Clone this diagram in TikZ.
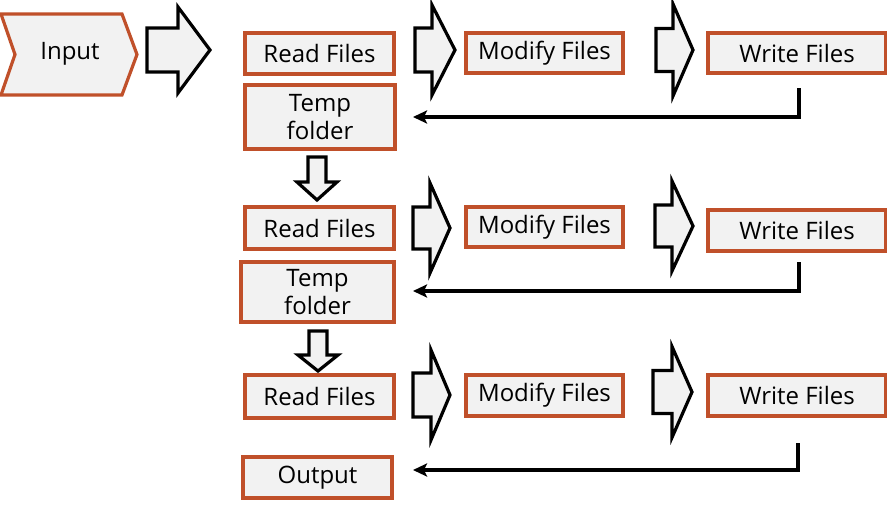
\documentclass[tikz,border=0pt]{standalone}
\usepackage{fontspec}
\setmainfont{Open Sans}
\usetikzlibrary{arrows.meta}
\definecolor{boxred}{RGB}{192,80,42}
\definecolor{boxfill}{RGB}{242,242,242}
\tikzset{
  box/.style={draw=boxred, line width=3.2pt, fill=boxfill, inner sep=0pt, align=center,
    font=\fontsize{24}{28}\selectfont, text=black},
  blk/.style={draw=black, line width=3.2pt, fill=boxfill, line join=miter},
  ret/.style={draw=black, line width=3.2pt, -{Stealth[length=14pt,width=13pt,inset=3pt]}},
}
\newcommand{\rarrow}[7]{% x0 xh xt yc shafthalf headhalf
  \path[blk] (#1,#4-#5) -- (#2,#4-#5) -- (#2,#4-#6) -- (#3,#4) -- (#2,#4+#6) -- (#2,#4+#5) -- (#1,#4+#5) -- cycle;}
\newcommand{\darrow}[6]{% cx ytop yhead ytip shafthalf headhalf
  \path[blk] (#1-#5,#2) -- (#1+#5,#2) -- (#1+#5,#3) -- (#1+#6,#3) -- (#1,#4) -- (#1-#6,#3) -- (#1-#5,#3) -- cycle;}
\begin{document}
\begin{tikzpicture}[x=1pt,y=-1pt]
\useasboundingbox (0,0) rectangle (887,506);
% input chevron
\path[draw=boxred, line width=3.2pt, fill=boxfill, line join=miter] (1,14) -- (122,14) -- (137,54.5) -- (122,95) -- (1,95) -- (15,54.5) -- cycle;
\node[font=\fontsize{24}{28}\selectfont] (input) at (70,54) {Input};
% block arrows
\rarrow{147}{178}{210}{50}{22}{43}{}
\rarrow{415}{432}{455}{50}{22}{45}{}
\rarrow{656}{673}{693}{50}{21.5}{46}{}
\rarrow{413}{430}{450}{228}{21}{45}{}
\rarrow{655}{672}{693}{226}{21}{45}{}
\rarrow{413}{431}{450}{395}{22}{45}{}
\rarrow{653}{672}{692}{392}{21.5}{45.5}{}
\darrow{317}{157}{182}{200}{9}{20}
\darrow{318}{331}{355}{371}{9}{20}
% boxes
\node[box, minimum width=149, minimum height=41] (read1) at (319.5,53.5) {Read Files};
\node[box, minimum width=150, minimum height=64] (temp1) at (320,117) {Temp\\folder};
\node[box, minimum width=157, minimum height=40] (mod1) at (544.5,53) {Modify Files};
\node[box, minimum width=178, minimum height=40] (write1) at (797,53) {Write Files};
\node[box, minimum width=149, minimum height=42] (read2) at (319.5,228) {Read Files};
\node[box, minimum width=153, minimum height=60] (temp2) at (317.5,292) {Temp\\folder};
\node[box, minimum width=157, minimum height=40] (mod2) at (544.5,227) {Modify Files};
\node[box, minimum width=178, minimum height=41] (write2) at (797,230.5) {Write Files};
\node[box, minimum width=149, minimum height=43] (read3) at (319.5,396.5) {Read Files};
\node[box, minimum width=157, minimum height=41] (mod3) at (544.5,395.5) {Modify Files};
\node[box, minimum width=178, minimum height=41] (write3) at (797,395.5) {Write Files};
\node[box, minimum width=149, minimum height=41] (output) at (317.5,477.5) {Output};
% return connectors
\coordinate (s1) at (799,88);
\coordinate (e1) at (413,117);
\coordinate (s2) at (799,262);
\coordinate (e2) at (413,291);
\coordinate (s3) at (798,443);
\coordinate (e3) at (413,470);
\draw[ret] (s1) |- (e1);
\draw[ret] (s2) |- (e2);
\draw[ret] (s3) |- (e3);
\end{tikzpicture}
\end{document}
